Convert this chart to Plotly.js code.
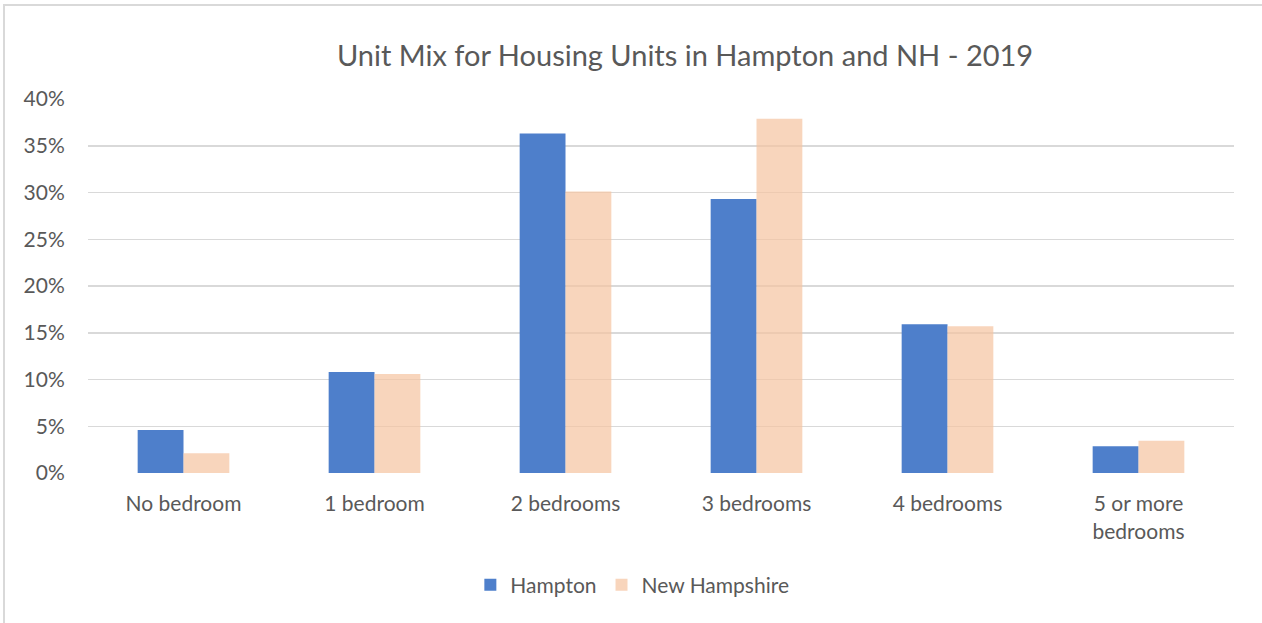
<!DOCTYPE html>
<html>
<head>
<meta charset="utf-8">
<script src="https://cdn.plot.ly/plotly-3.0.1.min.js"></script>
<style>
  html, body { margin: 0; padding: 0; background: #ffffff; }
  #frame { position: absolute; left: 3px; top: 4px; width: 1262px; height: 623px; box-sizing: border-box; border-left: 2px solid #d9d9d9; border-top: 2px solid #d9d9d9; }
  #chart { position: absolute; left: 0; top: 0; width: 1262px; height: 623px; }
</style>
</head>
<body>
<div id="frame"></div>
<div id="chart"></div>
<script>
const categories = ["No bedroom", "1 bedroom", "2 bedrooms", "3 bedrooms", "4 bedrooms", "5 or more<br>bedrooms"];
const hampton = [0.046, 0.108, 0.363, 0.293, 0.159, 0.0285];
const newHampshire = [0.021, 0.106, 0.301, 0.379, 0.157, 0.0345];
const seriesNames = ["Hampton", "New Hampshire"];
const yTicks = [0, 0.05, 0.10, 0.15, 0.20, 0.25, 0.30, 0.35, 0.40];

const font = "Lato, 'Open Sans', sans-serif";
const textColor = "#595959";

const data = [
  { type: "bar", name: seriesNames[0], x: categories, y: hampton,
    marker: { color: "#4e7fcb" }, hoverinfo: "x+y" },
  { type: "bar", name: seriesNames[1], x: categories, y: newHampshire,
    marker: { color: "rgba(245,195,160,0.7)" }, hoverinfo: "x+y" }
];

const layout = {
  width: 1262, height: 623,
  paper_bgcolor: "rgba(0,0,0,0)", plot_bgcolor: "rgba(0,0,0,0)",
  margin: { l: 88, r: 28, t: 99, b: 150 },
  font: { family: font, color: textColor, size: 21 },
  title: { text: "Unit Mix for Housing Units in Hampton and NH - 2019",
           font: { family: font, size: 29, color: textColor },
           x: 0.521, xref: "paper", xanchor: "center", y: 0.911, yref: "container", yanchor: "middle" },
  barmode: "group", bargap: 0.52, bargroupgap: 0,
  xaxis: { type: "category", showgrid: false, zeroline: false, showline: false,
           ticks: "outside", ticklen: 12, tickcolor: "rgba(0,0,0,0)",
           tickfont: { family: font, size: 21, color: textColor } },
  yaxis: { range: [0, 0.4], tickvals: yTicks, tickformat: ".0%",
           showgrid: true, gridcolor: "#d9d9d9", gridwidth: 1.5, zeroline: false, showline: false,
           ticks: "outside", ticklen: 18, tickcolor: "rgba(0,0,0,0)",
           tickfont: { family: font, size: 21, color: textColor } },
  legend: { orientation: "h", x: 0.475, xanchor: "center", y: -0.30, yanchor: "middle",
            font: { family: font, size: 21, color: textColor }, itemwidth: 30, traceorder: "normal" },
  showlegend: true
};

Plotly.newPlot("chart", data, layout, { displayModeBar: false, staticPlot: true });
</script>
</body>
</html>
